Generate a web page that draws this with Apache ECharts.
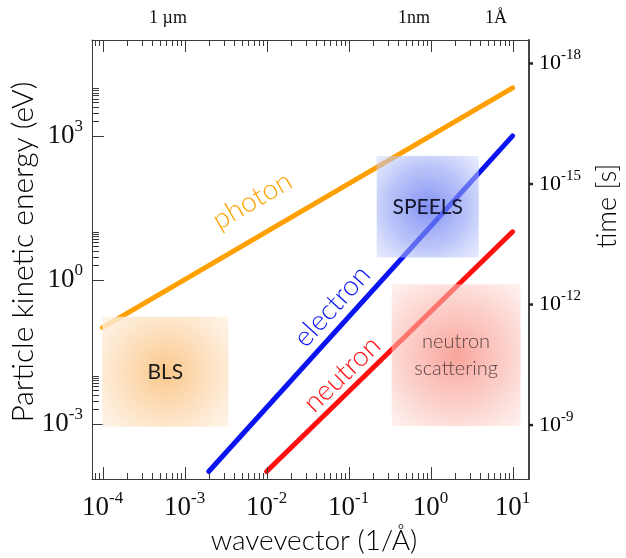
<!DOCTYPE html>
<html><head><meta charset="utf-8">
<script src="https://cdn.jsdelivr.net/npm/echarts@6/dist/echarts.min.js"></script>
<style>html,body{margin:0;padding:0;background:#fff}#c{width:626px;height:558px}</style>
</head><body><div id="c"></div>
<script>
// ---------- data ----------
const kRange = [7.43e-5, 15.85];        // wavevector axis (1/Å)
const eRange = [6.98e-5, 1.0e5];        // kinetic energy axis (eV)
const tRange = [2.606e-19, 2.198e-8];   // time axis (s), inverted

const photonK = [1e-4, 10];
const photonE = [0.1, 1e4];
const electronK = [1.97e-3, 10];
const electronE = [1e-4, 1000];
const neutronK = [1e-2, 10];
const neutronE = [1e-4, 10];

// curve labels
const curveNames = ['photon', 'electron', 'neutron'];
const curveLabelK = [6.65e-3, 0.0628, 0.083];
const curveLabelE = [45, 0.28, 0.0107];

// technique boxes [k0, k1], [E0, E1]
const boxNames = ['BLS', 'SPEELS', 'neutron\nscattering'];
const boxK = [[9.9e-5, 3.43e-3], [0.22, 3.87], [0.335, 12.5]];
const boxE = [[8.6e-4, 0.168], [2.9, 379], [8.9e-4, 0.806]];

// ticks
const xDecades = [1e-5, 1e-4, 1e-3, 1e-2, 1e-1, 1];
const xMajorTicks = [1e-4, 1e-3, 1e-2, 1e-1, 1, 10];
const minorMult = [2, 3, 4, 5, 6, 7, 8, 9];
const yMajorTicks = [1e-3, 1, 1e3];
const yMinorMult = [2, 3, 4, 5, 6, 7, 8, 9, 10];
const timeTicks = [1e-18, 1e-15, 1e-12, 1e-9];
const timeExp = [-18, -15, -12, -9];
const topLabels = ['1 µm', '1nm', '1Å'];
const topLabelK = [6.28e-4, 0.628, 6.28];

// ---------- build ----------
const xMinorTicks = [];
xDecades.forEach(d => minorMult.forEach(m => { const v = d * m; if (v >= kRange[0] && v <= kRange[1]) xMinorTicks.push(v); }));
const yMinorTicks = [];
yMajorTicks.forEach(d => yMinorMult.forEach(m => yMinorTicks.push(d * m)));

const xTickData = xMajorTicks.map(v => [v, 1, 1]).concat(xMinorTicks.map(v => [v, 1, 0]));
const yTickData = yMajorTicks.map(v => [1, v, 1]).concat(yMinorTicks.map(v => [1, v, 0]));

const SERIF = 'Liberation Serif';
const SANS = 'Lato';
const FRAME = '#3a3a3a';

function powLabel(v) {
  const e = Math.log10(v), r = Math.round(e);
  if (Math.abs(e - r) > 1e-6) return '';
  return '{b|10}{s|' + r + '}';
}
function yLabel(v) {
  const e = Math.log10(v), r = Math.round(e);
  if (Math.abs(e - r) > 1e-6 || r % 3 !== 0) return '';
  return '{b|10}{s|' + r + '}';
}
const richBig = {
  b: {fontFamily: SERIF, fontSize: 27, color: '#111'},
  s: {fontFamily: SERIF, fontSize: 17, color: '#111', padding: [0, 0, 19, 0]}
};
const richRight = {
  b: {fontFamily: SERIF, fontSize: 22, color: '#111'},
  s: {fontFamily: SERIF, fontSize: 15, color: '#111', padding: [0, 0, 16, 0]}
};

function pxLine(x1, y1, x2, y2, w) {
  return {type: 'line', shape: {x1, y1, x2, y2}, style: {stroke: FRAME, lineWidth: w || 1}};
}

function curve(name, ks, es, color) {
  return {
    type: 'line', name, z: 2,
    data: ks.map((k, i) => [k, es[i]]),
    showSymbol: false, symbol: 'none',
    lineStyle: {color, width: 5, cap: 'round'},
    silent: true, animation: false
  };
}

const boxColors = [
  ['rgba(250,196,132,0.95)', 'rgba(253,221,184,0.88)', 'rgba(254,240,224,0.8)'],
  ['rgba(95,115,240,0.78)', 'rgba(145,160,245,0.62)', 'rgba(215,222,252,0.5)'],
  ['rgba(246,138,126,0.78)', 'rgba(250,178,168,0.62)', 'rgba(253,225,220,0.5)']
];
const boxTextColors = ['#1a1a1a', '#14142a', '#5a4444'];
const boxFontSizes = [21, 21, 20];
const boxFontWeights = ['normal', 'normal', 300];

const markAreaData = boxNames.map((n, i) => [
  {name: n, coord: [boxK[i][0], boxE[i][1]],
   itemStyle: {color: {type: 'radial', x: 0.5, y: 0.5, r: 0.72, colorStops: [
     {offset: 0, color: boxColors[i][0]}, {offset: 0.55, color: boxColors[i][1]}, {offset: 1, color: boxColors[i][2]}]}},
   label: {color: boxTextColors[i], fontSize: boxFontSizes[i], fontWeight: boxFontWeights[i]}},
  {coord: [boxK[i][1], boxE[i][0]]}
]);

const curveColors = ['#FFA000', '#0a14f0', '#ff1010'];
const curveK = [photonK, electronK, neutronK];
const curveE = [photonE, electronE, neutronE];

const option = {
  animation: false,
  backgroundColor: '#fff',
  grid: {left: 92, right: 97, top: 40, bottom: 79, outerBoundsMode: 'none'},
  xAxis: [
    {type: 'log', logBase: 10, min: kRange[0], max: kRange[1], position: 'bottom',
     axisLine: {show: true, lineStyle: {color: FRAME, width: 1}},
     axisTick: {show: false}, splitLine: {show: false}, minorTick: {show: false},
     axisLabel: {formatter: powLabel, rich: richBig, margin: 11, showMinLabel: false, showMaxLabel: false}},
    {type: 'log', logBase: 10, min: kRange[0], max: kRange[1], position: 'top',
     axisLine: {show: true, onZero: false, lineStyle: {color: FRAME, width: 1}},
     axisTick: {show: false}, splitLine: {show: false}, axisLabel: {show: false}}
  ],
  yAxis: [
    {type: 'log', logBase: 10, min: eRange[0], max: eRange[1], position: 'left',
     axisLine: {show: true, lineStyle: {color: FRAME, width: 1}},
     axisTick: {show: false}, splitLine: {show: false},
     axisLabel: {formatter: yLabel, rich: richBig, margin: 9, showMinLabel: false, showMaxLabel: false}},
    {type: 'log', logBase: 10, min: tRange[0], max: tRange[1], inverse: true, position: 'right',
     axisLine: {show: true, lineStyle: {color: '#444', width: 2}},
     axisTick: {show: false}, splitLine: {show: false}, axisLabel: {show: false}}
  ],
  series: [
    curve('photon', photonK, photonE, curveColors[0]),
    curve('electron', electronK, electronE, curveColors[1]),
    Object.assign(curve('neutron', neutronK, neutronE, curveColors[2]), {
      markArea: {silent: true, z: 5, data: markAreaData,
        label: {show: true, position: 'inside', fontFamily: SANS, fontWeight: 300, fontSize: 20, lineHeight: 27, color: '#222'}}
    }),
    // curve labels, rotated along each curve
    {type: 'custom', z: 6, silent: true,
     data: curveNames.map((n, i) => [curveLabelK[i], curveLabelE[i]]),
     renderItem(params, api) {
       const i = params.dataIndex;
       const p = api.coord([api.value(0), api.value(1)]);
       const a = api.coord([curveK[i][0], curveE[i][0]]);
       const b = api.coord([curveK[i][1], curveE[i][1]]);
       const ang = Math.atan2(a[1] - b[1], b[0] - a[0]);
       return {type: 'text', x: p[0], y: p[1], rotation: ang,
         style: {text: curveNames[i], fill: curveColors[i], font: '300 28px ' + SANS, align: 'center', verticalAlign: 'middle'}};
     }},
    // x ticks (bottom + top, inward)
    {type: 'custom', z: 3, silent: true, data: xTickData,
     renderItem(params, api) {
       const cs = params.coordSys;
       const x = Math.round(api.coord([api.value(0), 1])[0]) + 0.5;
       const len = api.value(2) ? 12 : 6;
       const yb = cs.y + cs.height, yt = cs.y;
       return {type: 'group', children: [pxLine(x, yb, x, yb - len), pxLine(x, yt, x, yt + len)]};
     }},
    // y ticks (left, inward)
    {type: 'custom', z: 3, silent: true, data: yTickData,
     renderItem(params, api) {
       const cs = params.coordSys;
       const y = Math.round(api.coord([1, api.value(1)])[1]) + 0.5;
       const len = api.value(2) ? 12 : 7;
       return pxLine(cs.x, y, cs.x + len, y);
     }},
    // time ticks and labels (right axis)
    {type: 'custom', z: 3, silent: true, yAxisIndex: 1, data: timeTicks.map(t => [1, t]),
     renderItem(params, api) {
       const cs = params.coordSys;
       const y = api.coord([1, api.value(1)])[1];
       const xr = cs.x + cs.width;
       return {type: 'group', children: [
         {type: 'line', shape: {x1: xr, y1: y, x2: xr + 4, y2: y}, style: {stroke: '#222', lineWidth: 2.5}},
         {type: 'text', x: xr + 10, y: y,
          style: {text: '{b|10}{s|' + timeExp[params.dataIndex] + '}', rich: richRight, align: 'left', verticalAlign: 'middle'}}
       ]};
     }},
    // top wavelength labels
    {type: 'custom', z: 3, silent: true, data: topLabelK.map(k => [k, 1]),
     renderItem(params, api) {
       const cs = params.coordSys;
       const x = api.coord([api.value(0), 1])[0];
       return {type: 'text', x, y: cs.y - 22,
         style: {text: topLabels[params.dataIndex], fill: '#111', font: '18px ' + SERIF, align: 'center', verticalAlign: 'middle'}};
     }}
  ],
  graphic: [
    {type: 'text', x: 23, y: 252, rotation: Math.PI / 2,
     style: {text: 'Particle kinetic energy (eV)', fill: '#000', font: '300 30px ' + SANS, align: 'center', verticalAlign: 'middle'}},
    {type: 'text', x: 314, y: 541,
     style: {text: 'wavevector (1/Å)', fill: '#000', font: '300 28px ' + SANS, align: 'center', verticalAlign: 'middle'}},
    {type: 'text', x: 607, y: 206, rotation: Math.PI / 2,
     style: {text: 'time [s]', fill: '#000', font: '300 27px ' + SANS, align: 'center', verticalAlign: 'middle'}}
  ]
};

const chart = echarts.init(document.getElementById('c'), null, {renderer: 'canvas'});
chart.setOption(option);
</script>
</body></html>
